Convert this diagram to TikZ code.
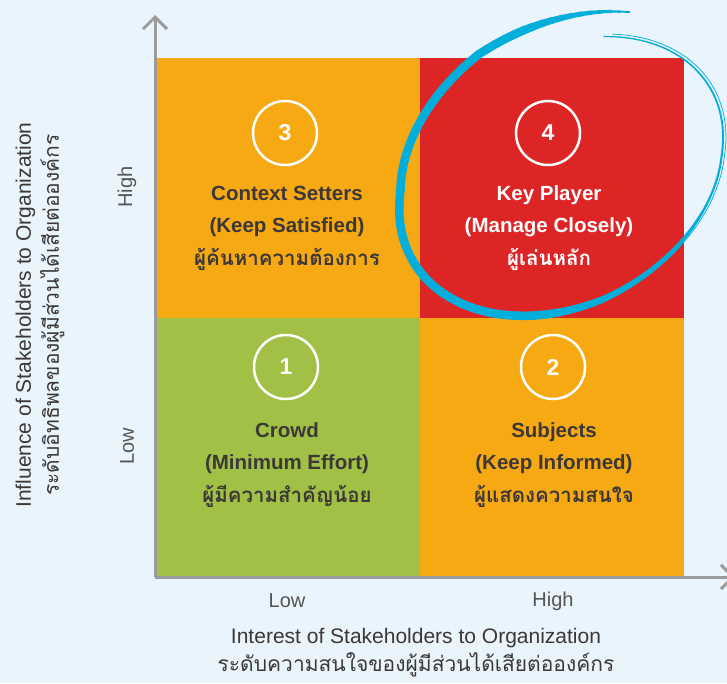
\documentclass[tikz,border=0pt]{standalone}
\usepackage{fontspec}
\setmainfont{Liberation Sans}
\newfontfamily\thaifont[Script=Thai]{Loma}
\usetikzlibrary{
  positioning,
  calc,
  arrows.meta}
\definecolor{bgcolor}{RGB}{233,244,252}
\definecolor{lowcolor}{RGB}{161,193,70}
\definecolor{midcolor}{RGB}{247,169,20}
\definecolor{highcolor}{RGB}{222,37,38}
\definecolor{ringcolor}{RGB}{4,174,219}
\definecolor{axiscolor}{RGB}{155,155,155}
\definecolor{textcolor}{RGB}{60,56,56}
\definecolor{tickcolor}{RGB}{85,85,85}
\tikzset{
  %% quadrant : one field of the grid
  quadrant/.style={
    rectangle,
    anchor=north west,
    minimum width=264pt,
    minimum height=260pt,
    inner sep=0pt
  },
  %% numbadge : the circled number of a field
  numbadge/.style={
    circle,
    draw=white,
    line width=2.5pt,
    minimum size=64pt,
    inner sep=0pt,
    text=white,
    font=\bfseries\fontsize{23}{23}\selectfont
  },
  %% quadtext : name, advice and thai name of a field
  quadtext/.style={
    align=center,
    text=textcolor,
    inner sep=0pt,
    font=\bfseries\fontsize{20.5}{32.5}\selectfont
  },
  %% axis : the two arrows
  axis/.style={
    axiscolor,
    line width=3pt,
    -{Straight Barb[length=12pt, width=24pt]}
  },
  %% ticklabel : low / high marks
  ticklabel/.style={
    text=tickcolor,
    font=\fontsize{20}{20}\selectfont
  },
  %% axistitle : the axis captions
  axistitle/.style={
    align=center,
    text=textcolor,
    font=\fontsize{21}{28}\selectfont
  },
  %% ring : brush stroke round the key players
  ring/.style={ringcolor, line cap=round}
}

\begin{document}
\begin{tikzpicture}
  [x=1pt,
  y=-1pt,
  %% radius scale and width of the brush stroke along its angle
  declare function={
    ringr(\t)=ifthenelse(\t<30, 0.97,
      ifthenelse(\t<100, 0.97+0.06*(\t-30)/70,
      ifthenelse(\t<210, 1.03,
      ifthenelse(\t<265, 1.03+0.12*(\t-210)/55, 1.15))));
    ringw(\t)=ifthenelse(\t<50, 1.2+1.0*(\t+54)/104,
      ifthenelse(\t<120, 2.2+6.3*(\t-50)/70,
      ifthenelse(\t<278, 8.5, 8.5-7.5*(\t-278)/36)));
  }]

  \useasboundingbox (0,0) rectangle (727,683);
  \fill [bgcolor] (0,0) rectangle (727,683);

  %% Grid fields
  \node (setters) [quadrant, fill=midcolor] at (156,58) {};
  \node (keyplayer) [quadrant, fill=highcolor] at (420,58) {};
  \node (crowd) [quadrant, fill=lowcolor] at (156,318) {};
  \node (subjects) [quadrant, fill=midcolor] at (420,318) {};

  %% Field contents
  \node (numsetters) [numbadge] at (285,133) {3};
  \node (txtsetters) [quadtext] at (287,228) {%
    Context Setters\\
    (Keep Satisfied)\\
    {\thaifont ผู้ค้นหาความต้องการ}
  };

  \node (numkeyplayer) [numbadge] at (548,133) {4};
  \node (txtkeyplayer) [quadtext, text=white] at (549,228) {%
    Key Player\\
    (Manage Closely)\\
    {\thaifont ผู้เล่นหลัก}
  };

  \node (numcrowd) [numbadge] at (286,367) {1};
  \node (txtcrowd) [quadtext] at (287,465) {%
    Crowd\\
    (Minimum Effort)\\
    {\thaifont ผู้มีความสำคัญน้อย}
  };

  \node (numsubjects) [numbadge] at (553,367) {2};
  \node (txtsubjects) [quadtext] at (554,465) {%
    Subjects\\
    (Keep Informed)\\
    {\thaifont ผู้แสดงความสนใจ}
  };

  %% Axes
  \coordinate (origin) at (155,577);
  \coordinate (ytip) at (155,15);
  \coordinate (xtip) at (735,577);
  \draw [axis] (origin) -- (ytip);
  \draw [axis] (origin) -- (xtip);

  \node (xlow) [ticklabel] at (287,601) {Low};
  \node (xhigh) [ticklabel] at (553,601) {High};
  \node (ylow) [ticklabel, rotate=90] at (127,446) {Low};
  \node (yhigh) [ticklabel, rotate=90] at (127,187) {High};

  \node (xtitle) [axistitle] at (416,653) {%
    Interest of Stakeholders to Organization\\
    {\thaifont ระดับความสนใจของผู้มีส่วนได้เสียต่อองค์กร}
  };
  \node (ytitle) [axistitle, rotate=90] at (40,315) {%
    Influence of Stakeholders to Organization\\
    {\thaifont ระดับอิทธิพลของผู้มีส่วนได้เสียต่อองค์กร}
  };

  %% Ring round the key players, thin at the start, heavy at the end
  \begin{scope}[shift={(566,172)}, rotate=30]
    \foreach \t in {-53,-50,...,311}{
      \draw [ring, line width=ringw(\t)*1pt]
        ({ringr(\t)*172*cos(\t)}, {ringr(\t)*127*sin(\t)}) --
        ({ringr(\t+3)*172*cos(\t+3)}, {ringr(\t+3)*127*sin(\t+3)});
    }
    %% loose bristles along the thin part
    \foreach \t in {-50,-47,...,88}{
      \draw [ring, line width=0.7pt]
        ({(ringr(\t)+0.018)*172*cos(\t)}, {(ringr(\t)+0.018)*127*sin(\t)}) --
        ({(ringr(\t+3)+0.018)*172*cos(\t+3)}, {(ringr(\t+3)+0.018)*127*sin(\t+3)});
    }
  \end{scope}

\end{tikzpicture}
\end{document}
